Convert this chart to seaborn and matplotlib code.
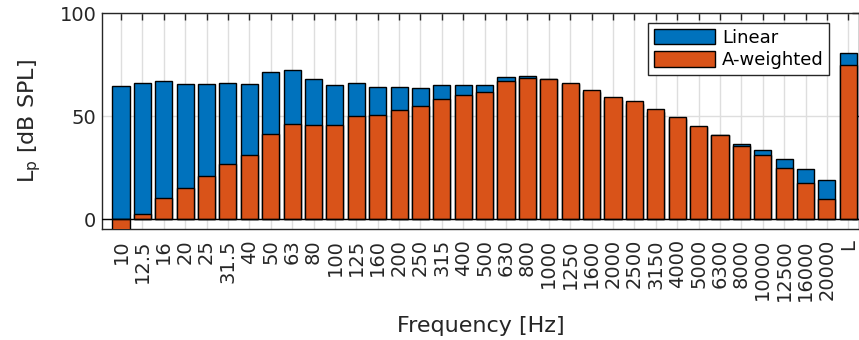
import matplotlib
matplotlib.use("Agg")
import matplotlib.pyplot as plt
from matplotlib.patches import Patch
import pandas as pd
import seaborn as sns

# One-third-octave band centre frequencies plus the overall level "L"
bands = ["10", "12.5", "16", "20", "25", "31.5", "40", "50", "63", "80",
         "100", "125", "160", "200", "250", "315", "400", "500", "630", "800",
         "1000", "1250", "1600", "2000", "2500", "3150", "4000", "5000", "6300",
         "8000", "10000", "12500", "16000", "20000", "L"]

# Sound pressure level per band, unweighted [dB SPL]
linear = [64.6, 66.0, 67.0, 65.5, 65.5, 66.0, 65.5, 71.4, 72.3, 68.0,
          65.0, 66.0, 64.1, 64.1, 63.6, 65.0, 65.0, 65.0, 68.9, 69.4,
          68.0, 65.4, 61.6, 58.0, 56.0, 52.2, 48.5, 44.6, 40.9,
          36.4, 33.5, 29.1, 24.3, 18.9, 80.6]

# Same levels after A-weighting [dB SPL]
a_weighted = [-5.8, 2.6, 10.3, 15.0, 20.8, 26.6, 30.9, 41.2, 46.1, 45.5,
              45.9, 49.9, 50.7, 53.2, 55.0, 58.4, 60.2, 61.8, 67.0, 68.6,
              68.0, 66.0, 62.6, 59.2, 57.3, 53.4, 49.5, 45.1, 40.8,
              35.3, 31.0, 24.8, 17.7, 9.6, 74.8]

BLUE = "#0072BD"
ORANGE = "#D95319"
AX_COLOR = "#262626"

sns.set_theme(style="white")
plt.rcParams["font.family"] = ["DejaVu Sans"]

df = pd.DataFrame({"band": bands, "Linear": linear, "A-weighted": a_weighted})

fig = plt.figure(figsize=(8.59, 3.40), dpi=100)
ax = fig.add_axes([102 / 859, 1 - 229.3 / 340, 757 / 859, (229.3 - 13.3) / 340])

sns.barplot(data=df, x="band", y="Linear", order=bands, color=BLUE,
            saturation=1, width=0.8, edgecolor="black", linewidth=1.0,
            errorbar=None, ax=ax, zorder=3)
sns.barplot(data=df, x="band", y="A-weighted", order=bands, color=ORANGE,
            saturation=1, width=0.8, edgecolor="black", linewidth=1.0,
            errorbar=None, ax=ax, zorder=4)

# bar baseline
ax.axhline(0, color="black", linewidth=1.0, zorder=5)

ax.set_xlim(-0.887, 34.5)
ax.set_ylim(-5, 100)
ax.set_yticks([0, 50, 100])
ax.set_yticklabels(["0", "50", "100"])
ax.set_xticks(range(len(bands)))
ax.set_xticklabels(bands, rotation=90)

ax.grid(True, color="#dedede", linewidth=1.0, zorder=0)
ax.set_axisbelow(True)
for s in ax.spines.values():
    s.set_visible(True)
    s.set_color(AX_COLOR)
    s.set_linewidth(1.0)

ax.tick_params(axis="both", direction="in", length=5, width=1.0,
               color=AX_COLOR, labelsize=14, labelcolor=AX_COLOR,
               top=True, right=True, pad=4)
ax.tick_params(axis="x", pad=7)

ax.set_xlabel("Frequency [Hz]", fontsize=16, color=AX_COLOR, labelpad=11)
ax.set_ylabel(r"L$_\mathregular{p}$ [dB SPL]", fontsize=16, color=AX_COLOR,
              labelpad=12)

handles = [Patch(facecolor=BLUE, edgecolor="black", linewidth=1.0, label="Linear"),
           Patch(facecolor=ORANGE, edgecolor="black", linewidth=1.0, label="A-weighted")]
leg = ax.legend(handles=handles, loc="upper left",
                bbox_to_anchor=((648.3 - 102) / 757, (229.3 - 23.3) / 216),
                fontsize=13, frameon=True, fancybox=False,
                handlelength=3.4, handleheight=0.95, handletextpad=0.4,
                borderpad=0.3, labelspacing=0.25, borderaxespad=0)
leg.get_frame().set_edgecolor(AX_COLOR)
leg.get_frame().set_linewidth(1.0)
leg.get_frame().set_alpha(1)
for t in leg.get_texts():
    t.set_color("black")

fig.savefig("out.png", dpi=100)
